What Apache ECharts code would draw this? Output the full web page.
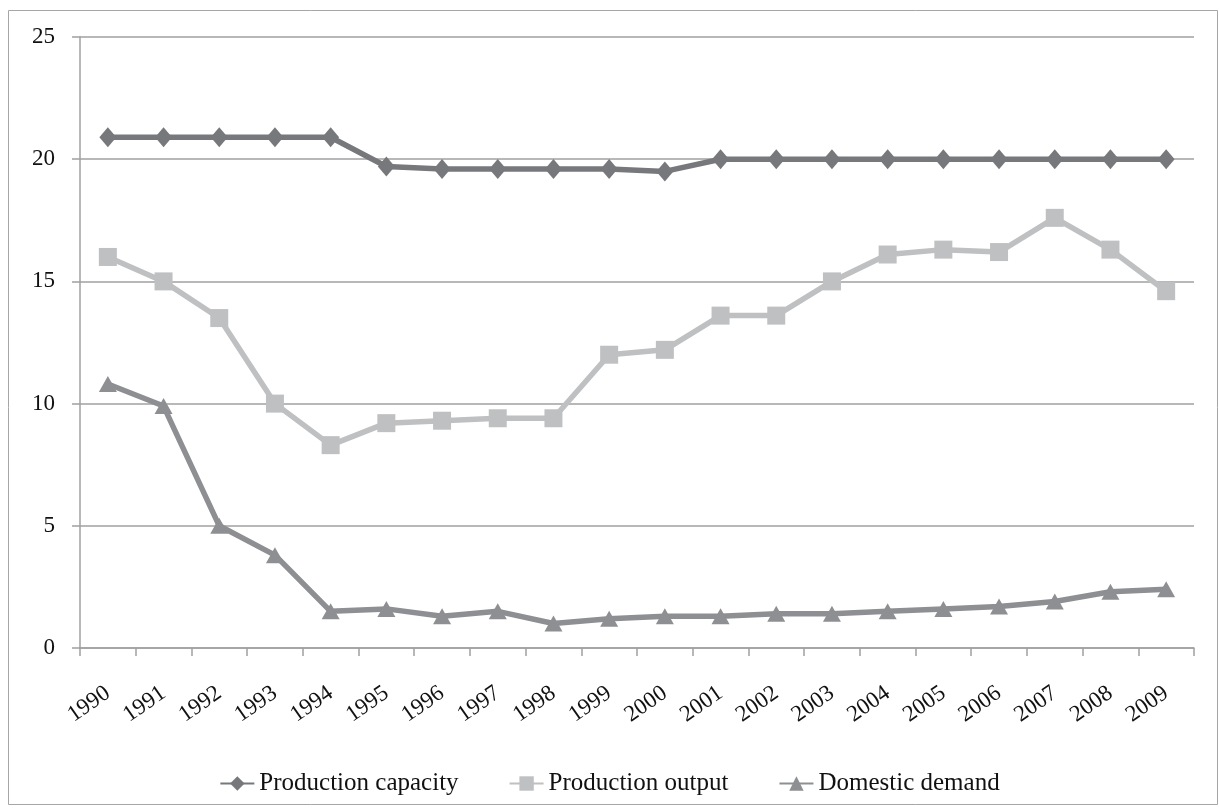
<!DOCTYPE html>
<html>
<head>
<meta charset="utf-8">
<script src="https://cdn.jsdelivr.net/npm/echarts@6/dist/echarts.min.js"></script>
<style>
html,body{margin:0;padding:0;background:#fff;}
#main{width:1219px;height:812px;}
</style>
</head>
<body>
<div id="main"></div>
<script>
var years = ['1990','1991','1992','1993','1994','1995','1996','1997','1998','1999','2000','2001','2002','2003','2004','2005','2006','2007','2008','2009'];
var productionCapacity = [20.9,20.9,20.9,20.9,20.9,19.7,19.6,19.6,19.6,19.6,19.5,20.0,20.0,20.0,20.0,20.0,20.0,20.0,20.0,20.0];
var productionOutput = [16.0,15.0,13.5,10.0,8.3,9.2,9.3,9.4,9.4,12.0,12.2,13.6,13.6,15.0,16.1,16.3,16.2,17.6,16.3,14.6];
var domesticDemand = [10.8,9.9,5.0,3.8,1.5,1.6,1.3,1.5,1.0,1.2,1.3,1.3,1.4,1.4,1.5,1.6,1.7,1.9,2.3,2.4];
var seriesNames = ['Production capacity','Production output','Domestic demand'];

var chart = echarts.init(document.getElementById('main'), null, {renderer:'canvas'});
var fontFam = '"Liberation Serif","Times New Roman",serif';
function mk(name, data, color, symbol, size){
  return {
    name: name, type: 'line', data: data,
    symbol: symbol, symbolSize: size,
    lineStyle: {color: color, width: 5.5},
    itemStyle: {color: color},
    emphasis: {disabled: true},
    animation: false
  };
}
chart.setOption({
  animation: false,
  backgroundColor: '#fff',
  graphic: [{
    type: 'rect', silent: true, z: -1,
    shape: {x: 8.5, y: 10.5, width: 1209, height: 794},
    style: {fill: 'none', stroke: '#a6a6a6', lineWidth: 1}
  }],
  grid: {left: 80, right: 25, top: 37, bottom: 164, containLabel: false},
  legend: {
    top: 766, left: 'center',
    itemWidth: 34, itemHeight: 18, itemGap: 50,
    textStyle: {fontFamily: fontFam, fontSize: 25, color: '#111'},
    data: seriesNames
  },
  xAxis: {
    type: 'category', data: years, boundaryGap: true,
    axisLine: {lineStyle: {color: '#a0a0a0', width: 1.5}},
    axisTick: {show: true, length: 8, lineStyle: {color: '#a0a0a0', width: 1.5}},
    axisLabel: {rotate: 35, margin: 43, fontFamily: fontFam, fontSize: 23, color: '#111', interval: 0}
  },
  yAxis: {
    type: 'value', min: 0, max: 25, interval: 5,
    axisLine: {show: true, lineStyle: {color: '#a0a0a0', width: 1.5}},
    axisTick: {show: true, length: 8, lineStyle: {color: '#a0a0a0', width: 1.5}},
    splitLine: {lineStyle: {color: '#a0a0a0', width: 1.5}},
    axisLabel: {margin: 25, fontFamily: fontFam, fontSize: 23, color: '#111'}
  },
  series: [
    mk(seriesNames[0], productionCapacity, '#77787b', 'diamond', [17, 20]),
    mk(seriesNames[1], productionOutput, '#bfc0c2', 'rect', 18),
    mk(seriesNames[2], domesticDemand, '#8e8f92', 'triangle', [18, 16])
  ]
});
</script>
</body>
</html>
